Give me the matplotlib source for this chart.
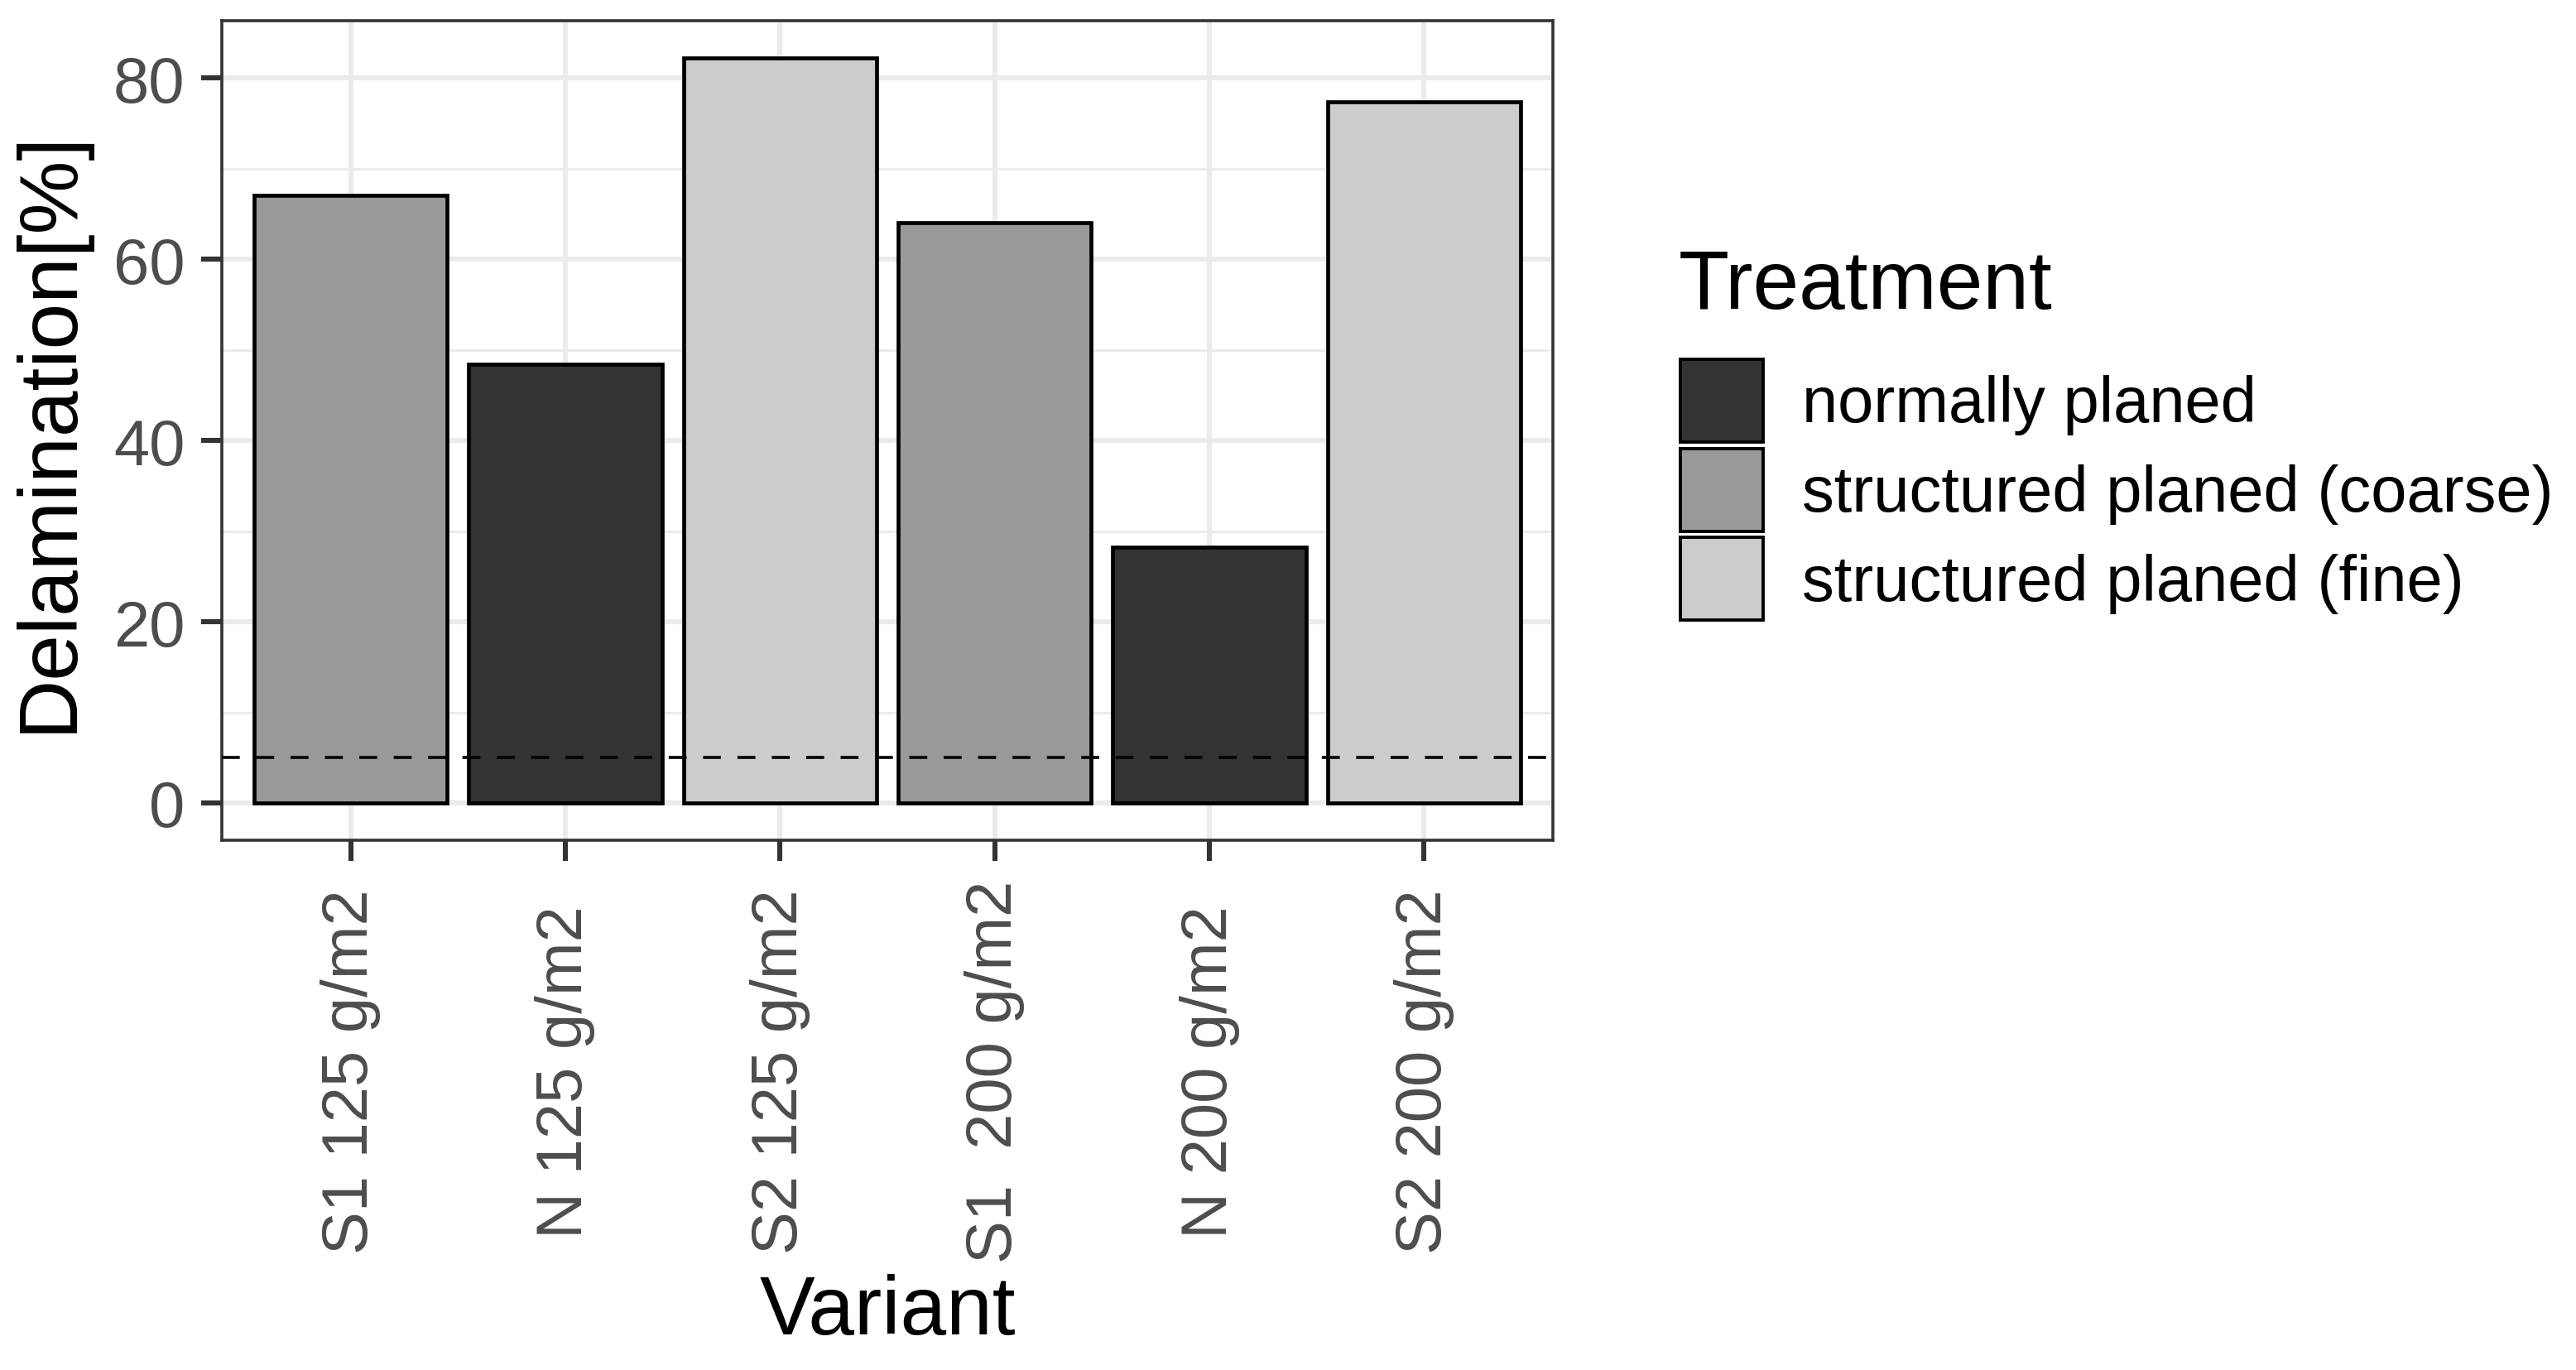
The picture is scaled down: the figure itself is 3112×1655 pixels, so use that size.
import matplotlib
matplotlib.use("Agg")
import matplotlib.pyplot as plt
from matplotlib.patches import Patch
from matplotlib.ticker import MultipleLocator

plt.rcParams['font.family'] = ['Liberation Sans', 'DejaVu Sans']

variants = ["S1 125 g/m2", "N 125 g/m2", "S2 125 g/m2", "S1  200 g/m2", "N 200 g/m2", "S2 200 g/m2"]
treatment = ["structured planed (coarse)", "normally planed", "structured planed (fine)",
             "structured planed (coarse)", "normally planed", "structured planed (fine)"]
delamination = [67.0, 48.4, 82.2, 64.0, 28.2, 77.4]
threshold = 5
legend_order = ["normally planed", "structured planed (coarse)", "structured planed (fine)"]
fill_colors = {"normally planed": "#333333",
               "structured planed (coarse)": "#999999",
               "structured planed (fine)": "#CCCCCC"}

W, H, DPI = 3112, 1656, 200
fig = plt.figure(figsize=(W / DPI, H / DPI), dpi=DPI)
ax = fig.add_axes([268 / W, 1 - 1016 / H, 1608 / W, 990 / H])

x = list(range(1, len(variants) + 1))
ax.bar(x, delamination, width=0.9, color=[fill_colors[t] for t in treatment],
       edgecolor="black", linewidth=1.7, zorder=3)
ax.axhline(threshold, color="black", linestyle=(0, (6, 5.5)), linewidth=1.3, zorder=4)

ymax = max(delamination)
ax.set_xlim(0.4, 6.6)
ax.set_ylim(-0.05 * ymax, 1.05 * ymax)
ax.set_xticks(x)
ax.set_xticklabels(variants)
ax.yaxis.set_major_locator(MultipleLocator(20))
ax.yaxis.set_minor_locator(MultipleLocator(10))
ax.grid(which="major", color="#EBEBEB", linewidth=2.2, zorder=0)
ax.grid(which="minor", axis="y", color="#EBEBEB", linewidth=1.1, zorder=0)
ax.set_axisbelow(True)
ax.tick_params(which="minor", length=0)
ax.tick_params(which="major", length=9, width=2.2, color="#333333",
               labelcolor="#4D4D4D", labelsize=28)
ax.tick_params(axis="y", pad=7)
for s in ax.spines.values():
    s.set_color("#333333")
    s.set_linewidth(1.3)

for lab in ax.get_xticklabels():
    lab.set_rotation(90)
    lab.set_va("center")
    lab.set_ha("center")
ax.tick_params(axis="x", pad=91.5)

ax.set_ylabel("Delamination[%]", fontsize=36, color="black", labelpad=11)
ax.set_xlabel("Variant", fontsize=36, color="black", labelpad=4.5)

# legend
fig.text(2028 / W, 1 - 373 / H, "Treatment", fontsize=36, color="black",
         ha="left", va="baseline")
handles = [Patch(facecolor=fill_colors[t], edgecolor="black", linewidth=1.4) for t in legend_order]
fig.legend(handles, legend_order, loc="upper left",
           bbox_to_anchor=(2030 / W, 1 - 435 / H), frameon=False,
           fontsize=28, handlelength=36 / 28, handleheight=1.601, labelspacing=0.097,
           handletextpad=0.60, borderpad=0, borderaxespad=0)

fig.savefig("out.png", dpi=DPI, facecolor="white")
